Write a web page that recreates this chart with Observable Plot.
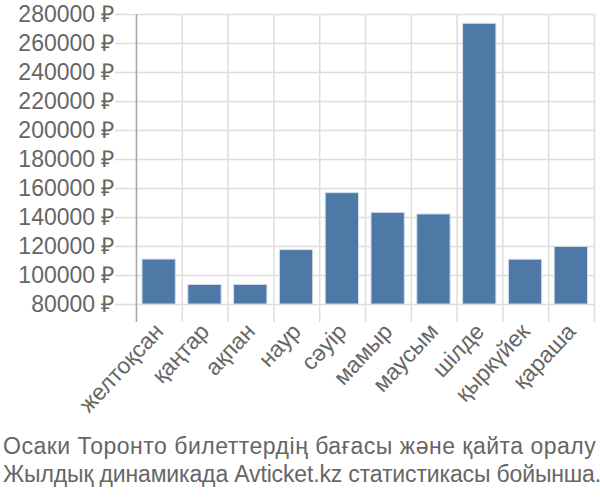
<!DOCTYPE html>
<html>
<head>
<meta charset="utf-8">
<script src="https://cdn.jsdelivr.net/npm/d3@7"></script>
<script src="https://cdn.jsdelivr.net/npm/@observablehq/plot@0.6"></script>
<style>
  html, body { margin: 0; padding: 0; background: #fff; }
  #chart svg { display: block; }
  .caption { font-family: "Liberation Sans", Arial, sans-serif; font-size: 23px; color: #666; margin: 0 0 0 3px; line-height: 28px; white-space: nowrap; }
  .caption .l1 { letter-spacing: 0.5px; }
  .caption .l2 { letter-spacing: -0.15px; }
</style>
</head>
<body>
<div id="chart"></div>
<div class="caption"><span class="l1">Осаки Торонто билеттердің бағасы және қайта оралу</span><br><span class="l2">Жылдық динамикада Avticket.kz статистикасы бойынша.</span></div>
<script>
const months = ["желтоқсан", "қаңтар", "ақпан", "наур", "сәуір", "мамыр", "маусым", "шілде", "қыркүйек", "қараша"];
const prices = [111000, 93500, 93500, 117500, 156800, 143200, 142100, 273600, 110900, 119700];
const yTicks = [80000, 100000, 120000, 140000, 160000, 180000, 200000, 220000, 240000, 260000, 280000];
const baseValue = 80000;
const currency = "₽";

const data = months.map((m, i) => ({month: m, i, price: prices[i]}));

const chart = Plot.plot({
  width: 600,
  height: 432,
  marginLeft: 136,
  marginRight: 6,
  marginTop: 14,
  marginBottom: 110,
  style: {fontFamily: "Liberation Sans, Arial, sans-serif", fontSize: "23px", color: "#666", background: "#fff"},
  x: {domain: [0, months.length], axis: null, label: null},
  y: {domain: [67600, 280000], axis: null, label: null},
  marks: [
    Plot.gridY(yTicks, {stroke: "#ddd", strokeOpacity: 1, strokeWidth: 1.5}),
    Plot.gridX(d3.range(months.length + 1), {stroke: "#ddd", strokeOpacity: 1, strokeWidth: 1.5}),
    Plot.axisY(yTicks, {tickSize: 21, stroke: "#ddd", strokeWidth: 1.5, tickPadding: 1, fill: "#666", fontSize: 23, label: null, tickFormat: d => `${d} ${currency}`}),
    Plot.ruleX([0], {stroke: "#aaa", strokeWidth: 1.5}),
    Plot.rectY(data, {x1: d => d.i, x2: d => d.i + 1, y1: baseValue, y2: "price", insetLeft: 6, insetRight: 6.5, fill: "#4e79a7", stroke: "#d3dde9", strokeWidth: 1}),
    Plot.axisX(months.map((_, i) => i + 0.5), {tickSize: 0, tickPadding: 5, tickRotate: -47, fill: "#666", fontSize: 23, label: null, tickFormat: d => months[Math.floor(d)]})
  ]
});
document.getElementById("chart").appendChild(chart);
</script>
</body>
</html>
